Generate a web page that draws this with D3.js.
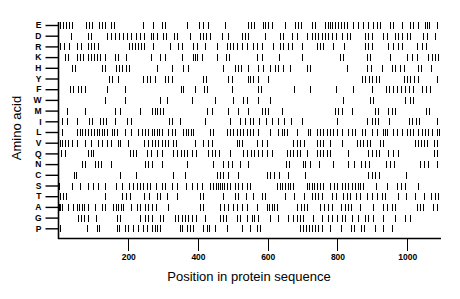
<!DOCTYPE html>
<html>
<head>
<meta charset="utf-8">
<script src="https://cdn.jsdelivr.net/npm/d3@7"></script>
<style>
  html, body { margin: 0; padding: 0; background: #fff; }
  svg { display: block; }
</style>
</head>
<body>
<svg id="chart" width="460" height="299"></svg>
<script>
const aminoAcids = ["E","D","R","K","H","Y","F","W","M","I","L","V","Q","N","C","S","T","A","G","P"];
const xTicks = [200, 400, 600, 800, 1000];
const seqLength = 1094;

const E = [4,13,22,30,39,79,87,96,116,125,133,151,159,242,271,297,305,368,403,414,428,477,543,552,561,586,592,600,612,649,678,687,695,727,735,764,773,778,784,793,801,810,819,827,844,859,873,887,902,913,922,950,959,985,1008,1016,1031,1051,1056,1062,1085];
const D = [36,85,93,139,151,162,173,185,196,208,222,234,245,265,271,282,300,308,331,340,377,406,414,423,434,469,486,526,535,543,592,635,644,669,684,712,727,735,744,755,764,773,784,796,813,827,836,879,887,899,930,942,965,973,985,999,1008,1045,1056,1079];
const R = [4,16,30,53,65,85,93,102,113,202,211,219,228,237,245,271,320,343,354,386,397,420,454,483,492,500,512,526,540,558,569,583,615,635,644,658,669,698,741,750,758,787,819,879,887,899,945,959,973,985,1028,1042,1054];
const K = [19,27,53,62,70,85,93,102,110,119,133,162,171,194,265,291,305,354,386,391,397,411,454,479,489,569,583,632,698,807,816,884,893,950,999,1013,1028,1059,1071,1079,1088];
const H = [39,47,125,133,165,173,182,194,202,282,325,357,371,472,506,515,523,543,572,586,606,621,629,644,664,712,721,827,884,896,927,956,965,979,991,1031,1039,1068];
const Y = [145,153,171,242,254,262,277,305,314,325,414,423,486,497,543,549,558,572,600,870,879,890,899,910,919,991,999,1008,1019,1031,1085];
const F = [33,41,56,65,76,139,191,351,357,391,417,426,497,572,580,675,721,796,844,899,939,947,959,970,982,993,1005,1016,1042,1054,1065];
const W = [133,191,291,311,383,449,500,529,540,572,606,816,893,902,993,1008,1016];
const M = [24,76,162,176,234,268,277,282,291,300,426,440,486,515,543,583,592,600,641,793,801,813,842,907,916,945,956,965,1054,1062];
const I = [10,24,53,87,96,119,128,136,162,196,208,317,325,348,420,492,520,535,549,558,575,595,612,629,646,666,698,798,884,899,907,916,948,1005,1013,1025,1034,1085];
const L = [10,53,62,67,76,85,93,102,110,116,125,130,139,153,159,168,191,208,228,240,248,257,268,274,282,288,297,314,325,334,357,366,371,380,386,434,443,483,492,500,512,520,529,540,549,558,572,606,629,641,646,655,684,715,721,741,750,758,770,778,787,798,813,830,842,850,870,879,899,913,930,936,942,959,970,985,999,1008,1016,1031,1042,1051,1059,1071,1085,1091];
const V = [4,10,19,27,39,53,76,93,113,125,139,151,171,176,199,245,257,268,277,285,297,305,314,328,337,391,414,428,440,512,518,526,569,583,598,672,684,692,704,741,750,758,778,813,856,864,873,884,893,922,930,1022,1031,1039,1048,1056,1076,1085];
const Q = [7,19,85,93,99,205,214,222,254,265,282,297,328,340,351,360,368,383,394,428,440,449,460,492,529,540,552,561,572,583,598,612,655,664,672,684,692,712,741,750,758,770,778,830,887,899,910,919,945,959,973,1076,1085];
const N = [67,76,105,113,122,151,248,257,268,297,368,443,472,486,497,520,543,652,661,701,707,721,747,787,830,847,867,879,890,939,950,962,1036,1048,1059,1085];
const C = [44,50,176,222,328,363,454,463,472,486,515,598,606,618,632,658,707,887,899,907,919,996];
const S = [1,39,62,85,99,113,133,165,182,202,214,225,234,242,254,262,280,297,305,325,340,366,383,397,411,434,443,452,457,463,469,474,483,492,506,515,526,540,549,626,635,641,649,658,664,672,712,718,727,732,741,750,758,778,790,798,813,821,830,842,850,859,864,873,910,942,970,982,993,1031];
const T = [4,13,22,133,182,194,205,245,259,282,291,311,340,406,414,472,506,515,538,558,583,592,649,675,704,727,735,744,755,784,796,816,827,836,853,864,884,899,913,927,936,973,996,1022,1048,1068,1079,1088];
const A = [1,4,10,27,41,53,59,67,73,85,105,125,133,156,165,171,179,185,208,225,234,248,257,268,280,314,406,414,463,474,486,500,512,526,540,569,598,604,612,618,626,684,695,704,712,750,761,773,784,810,821,830,839,864,902,930,942,956,965,1028,1036,1045,1074,1085];
const G = [56,65,73,85,108,168,176,234,248,257,268,291,300,334,343,354,363,371,383,394,420,463,472,481,512,520,540,555,561,572,606,629,658,672,684,692,701,729,755,773,784,798,813,821,842,859,879,887,902,930,965,993,1008];
const P = [4,82,110,116,168,173,191,199,214,228,242,254,268,277,282,291,348,354,368,377,386,414,426,431,449,483,526,549,569,578,692,701,710,718,727,735,744,755,778,810,839,847,867,876,907,930,956];

const positions = {E, D, R, K, H, Y, F, W, M, I, L, V, Q, N, C, S, T, A, G, P};

const svg = d3.select("#chart");
const font = "'Liberation Sans', Arial, Helvetica, sans-serif";

const x = d3.scaleLinear().domain([0, seqLength]).range([58.5, 440]);
const y = d3.scalePoint().domain(aminoAcids).range([25, 228.3]);

// tick marks for each residue
const g = svg.append("g");
aminoAcids.forEach(aa => {
  g.selectAll(null)
    .data(positions[aa])
    .enter()
    .append("line")
    .attr("x1", d => Math.round(x(d)) + 0.5)
    .attr("x2", d => Math.round(x(d)) + 0.5)
    .attr("y1", Math.round(y(aa)) - 3)
    .attr("y2", Math.round(y(aa)) + 4)
    .attr("stroke", "#000")
    .attr("stroke-width", 1)
    .attr("shape-rendering", "crispEdges");
});

// x axis
const xAxis = d3.axisBottom(x).tickValues(xTicks).tickFormat(d3.format("d"))
  .tickSize(12).tickSizeOuter(0).tickPadding(3);
const xg = svg.append("g").attr("transform", "translate(0,238.5)").call(xAxis);
xg.select(".domain").remove();
xg.selectAll(".tick line").attr("stroke", "#000").attr("shape-rendering", "crispEdges");
xg.selectAll(".tick text").attr("font-family", font).attr("font-size", 8.5).attr("font-weight", "bold").attr("fill", "#000");
svg.append("line").attr("x1", 58).attr("x2", 441).attr("y1", 238.5).attr("y2", 238.5)
  .attr("stroke", "#000").attr("stroke-width", 1.6);

// y axis
const yAxis = d3.axisLeft(y).tickSize(13).tickPadding(4);
const yg = svg.append("g").attr("transform", "translate(58.5,0)").call(yAxis);
yg.select(".domain").remove();
yg.selectAll(".tick line").attr("stroke", "#000").attr("stroke-width", 1.4);
yg.selectAll(".tick text").attr("font-family", font).attr("font-size", 8.5).attr("font-weight", "bold").attr("fill", "#000");
svg.append("line").attr("x1", 58.5).attr("x2", 58.5).attr("y1", 22).attr("y2", 239)
  .attr("stroke", "#000").attr("stroke-width", 1.6);

// titles
svg.append("text").attr("x", 249).attr("y", 281).attr("text-anchor", "middle")
  .attr("font-family", font).attr("font-size", 13).attr("fill", "#000")
  .text("Position in protein sequence");
svg.append("text").attr("transform", "translate(21,128) rotate(-90)").attr("text-anchor", "middle")
  .attr("font-family", font).attr("font-size", 13).attr("fill", "#000")
  .text("Amino acid");
</script>
</body>
</html>
